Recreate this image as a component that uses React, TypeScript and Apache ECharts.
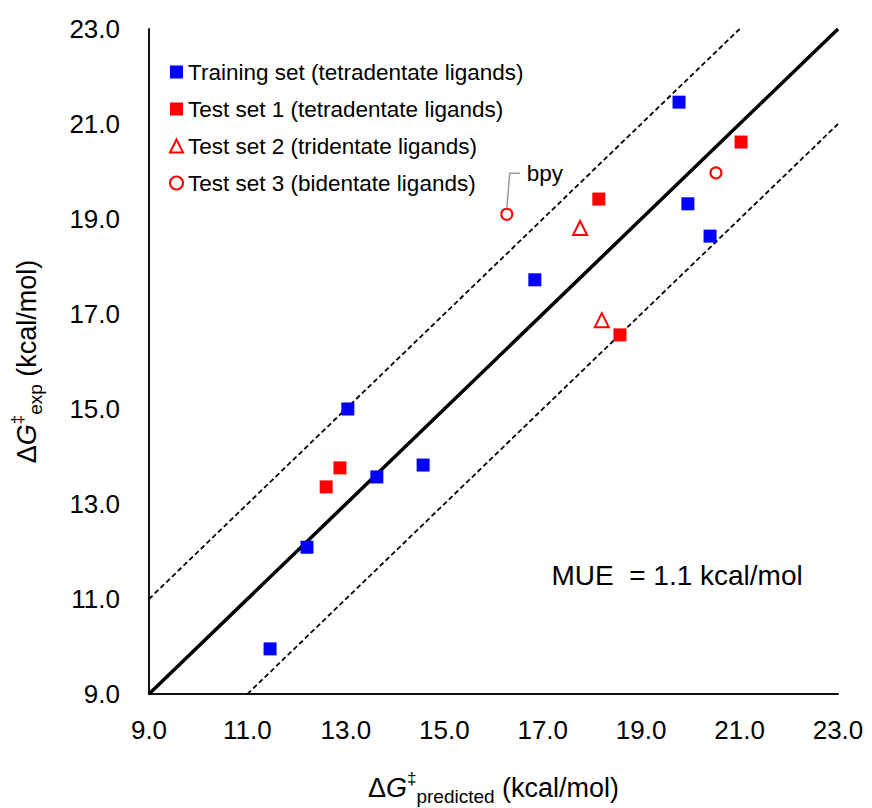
import React, { useEffect, useRef } from "react";
import * as echarts from "echarts";

const axisTicks = [9, 11, 13, 15, 17, 19, 21, 23];
const trainingSet: number[][] = [
  [11.46, 9.95], [12.21, 12.09], [13.04, 15.0], [13.63, 13.57], [14.57, 13.82],
  [16.84, 17.72], [19.77, 21.46], [19.95, 19.32], [20.4, 18.64],
];
const testSet1: number[][] = [
  [12.6, 13.36], [12.88, 13.76], [18.14, 19.42], [18.57, 16.56], [21.03, 20.62],
];
const testSet2: number[][] = [
  [17.76, 18.81], [18.2, 16.87],
];
const testSet3: number[][] = [
  [16.27, 19.1], [20.52, 19.97],
];
const parityLine: number[][] = [[9, 9], [23, 23]];
const upperBound: number[][] = [[9, 11], [21, 23]];
const lowerBound: number[][] = [[11, 9], [23, 21]];
const bpyPoint = [16.27, 19.1];
const muePos = [19.73, 11.5];
const mueText = "MUE  = 1.1 kcal/mol";

const FONT = "Liberation Sans, Arial, sans-serif";

export default function App() {
  const ref = useRef<HTMLDivElement>(null);
  useEffect(() => {
    if (!ref.current) return;
    const chart = echarts.init(ref.current, undefined, { renderer: "svg" });
    const titleRich = {
      n: { fontSize: 27, fontFamily: FONT, color: "#000", lineHeight: 36, verticalAlign: "middle" },
      g: { fontSize: 27, fontFamily: FONT, color: "#000", fontStyle: "italic", lineHeight: 36, verticalAlign: "middle" },
      sup: { fontSize: 17, fontFamily: FONT, color: "#000", lineHeight: 36, verticalAlign: "top", padding: [0, 0, 8, 0] },
      sub: { fontSize: 19, fontFamily: FONT, color: "#000", lineHeight: 36, verticalAlign: "bottom", padding: [8, 0, 0, 0] },
    };
    const axisCommon = {
      type: "value",
      min: axisTicks[0],
      max: axisTicks[axisTicks.length - 1],
      interval: 2,
      splitLine: { show: false },
      axisTick: { show: false },
      axisLine: { show: true, onZero: false, lineStyle: { color: "#111", width: 2 } },
      nameLocation: "middle",
    };
    const scatterBase = { type: "scatter", z: 5 };
    chart.setOption({
      animation: false,
      backgroundColor: "#fff",
      grid: { left: 149, right: 34, top: 29, bottom: 114, containLabel: false, outerBoundsMode: "none" },
      xAxis: {
        ...axisCommon,
        name: "{n|Δ}{g|G}{sup|‡}{sub|predicted}{n| (kcal/mol)}",
        nameGap: 76,
        nameTextStyle: { rich: titleRich },
        axisLabel: {
          fontSize: 26, fontFamily: FONT, color: "#000", margin: 23,
          formatter: (v: number) => v.toFixed(1),
        },
      },
      yAxis: {
        ...axisCommon,
        name: "{n|Δ}{g|G}{sup|‡}{sub|exp}{n| (kcal/mol)}",
        nameGap: 104,
        nameRotate: 90,
        nameTextStyle: { rich: titleRich },
        axisLabel: {
          fontSize: 26, fontFamily: FONT, color: "#000", margin: 29,
          formatter: (v: number) => v.toFixed(1),
        },
      },
      legend: {
        orient: "vertical",
        left: 164,
        top: 55,
        itemGap: 13,
        itemWidth: 13,
        itemHeight: 13,
        textStyle: { fontSize: 22.5, lineHeight: 24, fontFamily: FONT, color: "#000" },
        data: [
          "Training set (tetradentate ligands)",
          "Test set 1 (tetradentate ligands)",
          "Test set 2 (tridentate ligands)",
          "Test set 3 (bidentate ligands)",
        ],
      },
      series: [
        {
          type: "line", data: parityLine, symbol: "none", z: 2,
          lineStyle: { color: "#000", width: 3.5 },
        },
        {
          type: "line", data: upperBound, symbol: "none", z: 2,
          lineStyle: { color: "#000", width: 1.8, type: [5, 3] },
        },
        {
          type: "line", data: lowerBound, symbol: "none", z: 2,
          lineStyle: { color: "#000", width: 1.8, type: [5, 3] },
        },
        {
          ...scatterBase, name: "Training set (tetradentate ligands)", data: trainingSet,
          symbol: "rect", symbolSize: 13, itemStyle: { color: "#0000ff", opacity: 1 },
        },
        {
          ...scatterBase, name: "Test set 1 (tetradentate ligands)", data: testSet1,
          symbol: "rect", symbolSize: 13, itemStyle: { color: "#ff0000", opacity: 1 },
        },
        {
          ...scatterBase, name: "Test set 2 (tridentate ligands)", data: testSet2,
          symbol: "triangle", symbolSize: 14,
          itemStyle: { color: "#fff", borderColor: "#ff0000", borderWidth: 2, opacity: 1 },
        },
        {
          ...scatterBase, name: "Test set 3 (bidentate ligands)", data: testSet3,
          symbol: "circle", symbolSize: 11,
          itemStyle: { color: "#fff", borderColor: "#ff0000", borderWidth: 2, opacity: 1 },
        },
      ],
    });
    const p = chart.convertToPixel({ gridIndex: 0 }, bpyPoint) as number[];
    const m = chart.convertToPixel({ gridIndex: 0 }, muePos) as number[];
    chart.setOption({
      graphic: [
        {
          type: "polyline", z: 10,
          shape: { points: [[p[0], p[1] - 6], [p[0] + 3, p[1] - 41], [p[0] + 13, p[1] - 41]] },
          style: { stroke: "#999", lineWidth: 1.5, fill: "none" },
        },
        {
          type: "text", z: 10, x: p[0] + 20, y: p[1] - 41,
          style: { text: "bpy", fontSize: 22.5, fontFamily: FONT, fill: "#000", verticalAlign: "middle" },
        },
        {
          type: "text", z: 10, x: m[0], y: m[1],
          style: { text: mueText, fontSize: 28, fontFamily: FONT, fill: "#000", align: "center", verticalAlign: "middle" },
        },
      ],
    });
    return () => chart.dispose();
  }, []);
  return (
    <div
      ref={ref}
      style={{ position: "absolute", left: 0, top: 0, width: 872, height: 808 }}
    />
  );
}
